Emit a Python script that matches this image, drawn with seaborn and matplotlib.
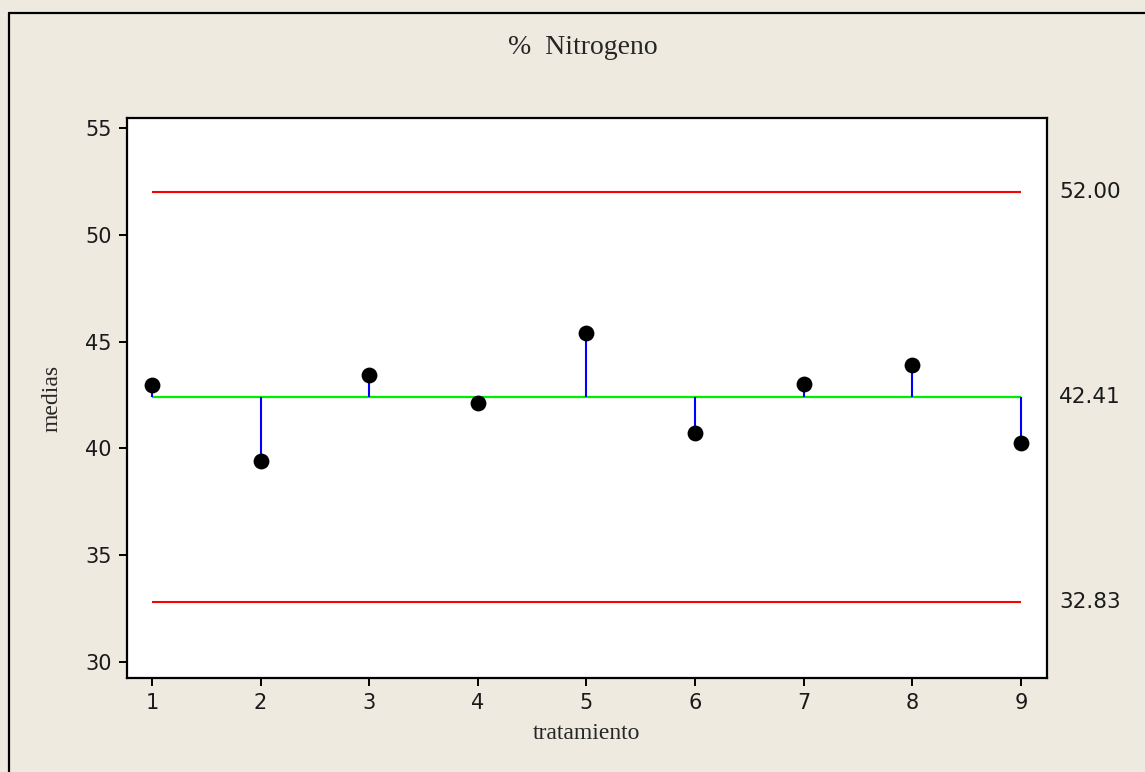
import matplotlib
matplotlib.use("Agg")
import matplotlib.pyplot as plt
import seaborn as sns
import pandas as pd
from matplotlib.lines import Line2D
from matplotlib.transforms import blended_transform_factory

# datos
tratamiento = [1, 2, 3, 4, 5, 6, 7, 8, 9]
medias = [42.97, 39.42, 43.45, 42.14, 45.42, 40.74, 43.00, 43.92, 40.26]
lsc = 52.00
centro = 42.41
lic = 32.83
etiquetas_limites = ["52.00", "42.41", "32.83"]

df = pd.DataFrame({"tratamiento": tratamiento, "medias": medias})

sns.set_style("white")
plt.rcParams["font.family"] = ["DejaVu Sans"]

bg = "#eeeae0"
fig = plt.figure(figsize=(11.45, 7.72), dpi=100, facecolor=bg)
ax = fig.add_axes([0.1109, 0.1218, 0.8035, 0.7254])
ax.set_facecolor("white")

# limites de control y linea central
ax.hlines([lsc, lic], tratamiento[0], tratamiento[-1], color="#ff0000", linewidth=1.5, zorder=2)
ax.hlines(centro, tratamiento[0], tratamiento[-1], color="#00ee00", linewidth=1.6, zorder=2)
# lineas desde el centro hasta cada media
ax.vlines(df["tratamiento"], centro, df["medias"], color="#0000ff", linewidth=1.5, zorder=3)

sns.scatterplot(data=df, x="tratamiento", y="medias", ax=ax, color="black",
                s=130, edgecolor="black", linewidth=0, zorder=4, legend=False)

ax.set_xlim(0.77, 9.24)
ax.set_ylim(29.25, 55.47)
ax.set_xticks(tratamiento)
ax.set_yticks([30, 35, 40, 45, 50, 55])
ax.tick_params(axis="both", direction="out", length=6, width=1.4, labelsize=15,
               colors="black", labelcolor="#1a1a1a", left=True, bottom=True, pad=5)
for s in ax.spines.values():
    s.set_linewidth(1.6)
    s.set_color("black")

ax.set_xlabel("tratamiento", family="Liberation Serif", fontsize=17, labelpad=7)
ax.set_ylabel("medias", family="Liberation Serif", fontsize=17)
ax.yaxis.set_label_coords(-0.0696, 0.5)
fig.text(583 / 1145, 1 - 48 / 772, "%  Nitrogeno", family="Liberation Serif", fontsize=20,
         ha="center", va="center")

# etiquetas de los limites a la derecha
trans = blended_transform_factory(ax.transAxes, ax.transData)
for val, lab in zip([lsc, centro, lic], etiquetas_limites):
    ax.text(1.013, val, lab, transform=trans, ha="left", va="center",
            fontsize=15.5, color="#1a1a1a")

# borde exterior
fig.add_artist(Line2D([8.5 / 1145, 8.5 / 1145], [0, 1 - 12.5 / 772], color="black",
                      linewidth=1.6, transform=fig.transFigure))
fig.add_artist(Line2D([8.5 / 1145, 1], [1 - 12.5 / 772, 1 - 12.5 / 772], color="black",
                      linewidth=1.6, transform=fig.transFigure))

fig.savefig("out.png", dpi=100, facecolor=bg)
